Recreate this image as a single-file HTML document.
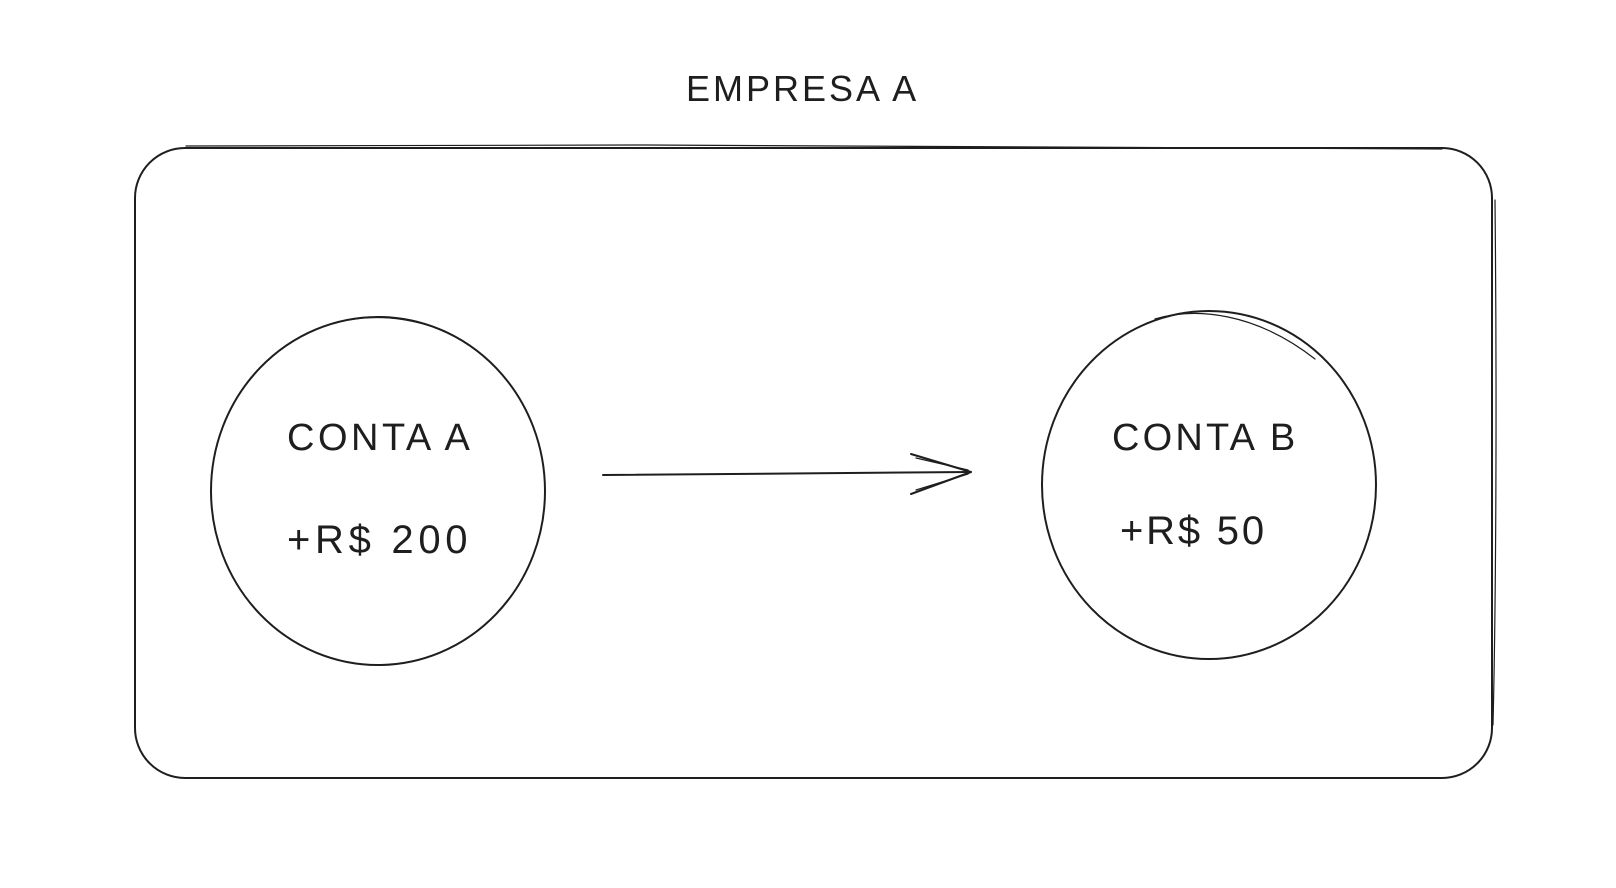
<!DOCTYPE html>
<html><head><meta charset="utf-8"><style>
html,body{margin:0;padding:0;background:#fff;}
svg{display:block}
text{font-family:"Liberation Sans",sans-serif;fill:#1e1e1e;}
</style></head><body>
<svg width="1616" height="888" viewBox="0 0 1616 888" xmlns="http://www.w3.org/2000/svg">
<g fill="none" stroke="#1e1e1e" stroke-width="2" stroke-linecap="round">
<rect x="135" y="148" width="1357" height="630" rx="50" ry="50"/>
<path d="M186 146 C600 144 1100 145 1442 149" stroke-width="1.2"/>
<path d="M1495 200 C1497 400 1496 600 1493 725" stroke-width="1.2"/>
<ellipse cx="378" cy="491" rx="167" ry="174"/>
<path d="M325 326 C360 314 400 314 445 331" stroke-width="1.2"/>
<ellipse cx="1209" cy="485" rx="167" ry="174"/>
<path d="M1155 319 C1195 307 1255 312 1315 359" stroke-width="1.2"/>
<path d="M603 475 L971 472"/>
<path d="M971 472 L911 454 M971 472 L911 494"/>
<path d="M968 470 L916 458 M968 474 L916 490" stroke-width="1.2"/>
</g>
<text x="686" y="101" font-size="36" letter-spacing="3">EMPRESA A</text>
<text x="287" y="450" font-size="38" letter-spacing="3.5">CONTA A</text>
<text x="287" y="553" font-size="40" letter-spacing="4.7">+R$ 200</text>
<text x="1112" y="450" font-size="38" letter-spacing="3.2">CONTA B</text>
<text x="1120" y="544" font-size="40" letter-spacing="2.8">+R$ 50</text>
</svg>
</body></html>
